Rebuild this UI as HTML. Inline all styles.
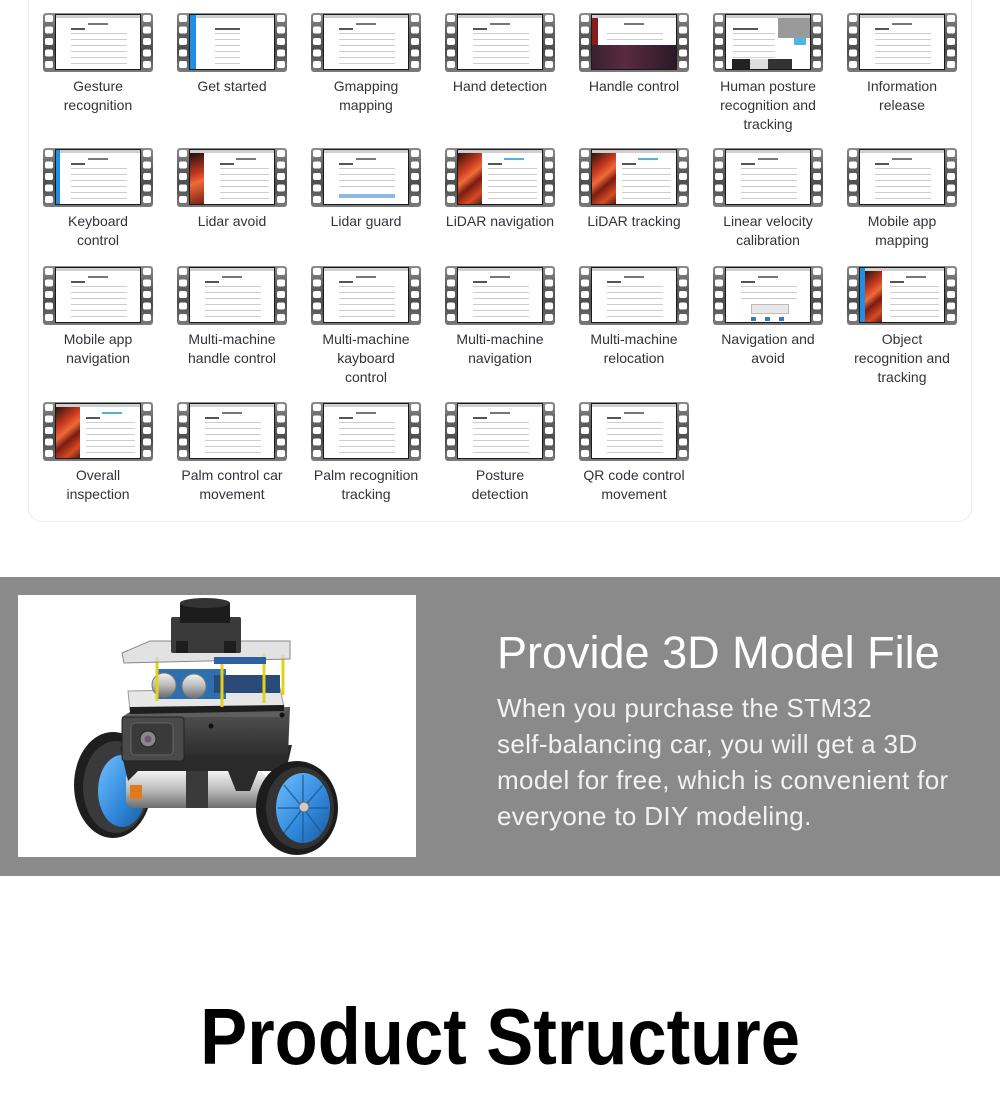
<!DOCTYPE html>
<html>
<head>
<meta charset="utf-8">
<style>
*{margin:0;padding:0;box-sizing:border-box}
html,body{width:1000px;height:1100px;background:#fff;overflow:hidden}
body{position:relative;font-family:"Liberation Sans",sans-serif}
.card{position:absolute;left:28px;top:-30px;width:944px;height:552px;border:1px solid #ebebeb;border-radius:14px;background:#fff}
.c{position:absolute;width:134px;text-align:center;font:14px/19px "Liberation Sans",sans-serif;color:#33323a}
.f{position:relative;margin:0 auto 5px;width:110px;height:59px;background:linear-gradient(#8c8c8c,#5e5e5e 35%,#4c4c4c 65%,#7c7c7c);border-radius:3px}
.f::before,.f::after{content:"";position:absolute;top:2px;width:8px;height:7px;background:#fff;border-radius:2px;box-shadow:0 11.5px #fff,0 23px #fff,0 34.5px #fff,0 46px #fff}
.f::before{left:2px}.f::after{right:2px}
.s{position:absolute;left:12px;top:1px;width:86px;height:56px;background:#fff;border:1px solid #1a1a1a;overflow:hidden}
.s::before{content:"";position:absolute;left:0;top:0;width:100%;height:3px;background:#cfcfcf}
.s .t{position:absolute;top:8px;left:38%;width:24%;height:2px;background:#777}
.s .p{position:absolute;top:15px;left:18%;width:66%;height:38px;background:repeating-linear-gradient(#fff 0 3px,#cdcdcd 3px 4px,#fff 4px 6px)}
.s .h{position:absolute;top:13px;left:18%;width:16%;height:2px;background:#555}
.r .p{left:36%;width:58%}.r .t{left:55%}.r .h{left:36%}
.rp{position:absolute;left:0;top:3px;width:24px;height:53px;background:linear-gradient(140deg,#2a1510 0,#c8391e 30%,#f06a3a 45%,#7a1c10 60%,#d84a24 80%,#3a1a12)}
.bb{position:absolute;left:0;top:0;width:6px;height:100%;background:#1f8fe6}
.band{position:absolute;left:0;top:577px;width:1000px;height:299px;background:#8a8a8a}
.wbox{position:absolute;left:18px;top:595px;width:398px;height:262px;background:#fff}
.h2{position:absolute;left:497px;top:628px;font-size:45px;line-height:50px;color:#fff;white-space:nowrap}
.para{position:absolute;left:497px;top:690px;font-size:26px;line-height:36px;color:#f2f2f2;letter-spacing:0.35px;white-space:nowrap}
.ps{position:absolute;left:0;top:997px;width:1000px;text-align:center;font-size:80px;line-height:80px;font-weight:bold;color:#000;white-space:nowrap}
.ps span{display:inline-block;transform:scaleX(0.882);transform-origin:center}
</style>
</head>
<body>
<div class="card"></div>

<!-- Row 1 -->
<div class="c" style="left:31px;top:13px"><div class="f"><div class="s"><i class="t"></i><i class="h"></i><i class="p"></i></div></div>Gesture<br>recognition</div>
<div class="c" style="left:165px;top:13px"><div class="f"><div class="s"><i class="bb"></i><i class="h" style="left:30%;width:30%"></i><i class="p" style="left:30%;width:30%"></i></div></div>Get started</div>
<div class="c" style="left:299px;top:13px"><div class="f"><div class="s"><i class="t"></i><i class="h"></i><i class="p"></i></div></div>Gmapping<br>mapping</div>
<div class="c" style="left:433px;top:13px"><div class="f"><div class="s"><i class="t"></i><i class="h"></i><i class="p"></i></div></div>Hand detection</div>
<div class="c" style="left:567px;top:13px"><div class="f"><div class="s"><i class="t"></i><i class="p" style="height:18px"></i><i style="position:absolute;left:0;top:30px;width:100%;height:26px;background:linear-gradient(90deg,#3a2230,#5a2a40 40%,#2a1a28)"></i><i style="position:absolute;left:0;top:3px;width:6px;height:27px;background:#8a1c1c"></i></div></div>Handle control</div>
<div class="c" style="left:701px;top:13px"><div class="f"><div class="s"><i class="h" style="left:8%;width:30%"></i><i class="p" style="left:8%;width:50%"></i><i style="position:absolute;right:0;top:3px;width:32px;height:20px;background:#9a9a9a"></i><i style="position:absolute;right:4px;top:22px;width:12px;height:8px;background:#5ab0e0"></i><i style="position:absolute;left:6px;bottom:0;width:60px;height:10px;background:linear-gradient(90deg,#222 0 30%,#ddd 30% 60%,#333 60%)"></i></div></div>Human posture<br>recognition and<br>tracking</div>
<div class="c" style="left:835px;top:13px"><div class="f"><div class="s"><i class="t"></i><i class="h"></i><i class="p"></i></div></div>Information<br>release</div>

<!-- Row 2 -->
<div class="c" style="left:31px;top:148px"><div class="f"><div class="s"><i class="bb" style="width:4px"></i><i class="t"></i><i class="h"></i><i class="p"></i></div></div>Keyboard<br>control</div>
<div class="c r" style="left:165px;top:148px"><div class="f"><div class="s"><i class="rp" style="width:14px;background:linear-gradient(160deg,#1a1010,#c8391e 40%,#f06a3a 55%,#6a1a10)"></i><i class="t"></i><i class="h"></i><i class="p"></i></div></div>Lidar avoid</div>
<div class="c" style="left:299px;top:148px"><div class="f"><div class="s"><i class="t"></i><i class="h"></i><i class="p" style="height:26px"></i><i style="position:absolute;left:18%;top:44px;width:66%;height:4px;background:#8fb8e0"></i></div></div>Lidar guard</div>
<div class="c r" style="left:433px;top:148px"><div class="f"><div class="s"><i class="rp"></i><i class="t" style="background:#5ab0d0"></i><i class="h"></i><i class="p"></i></div></div>LiDAR navigation</div>
<div class="c r" style="left:567px;top:148px"><div class="f"><div class="s"><i class="rp"></i><i class="t" style="background:#5ab0d0"></i><i class="h"></i><i class="p"></i></div></div>LiDAR tracking</div>
<div class="c" style="left:701px;top:148px"><div class="f"><div class="s"><i class="t"></i><i class="h"></i><i class="p"></i></div></div>Linear velocity<br>calibration</div>
<div class="c" style="left:835px;top:148px"><div class="f"><div class="s"><i class="t"></i><i class="h"></i><i class="p"></i></div></div>Mobile app<br>mapping</div>

<!-- Row 3 -->
<div class="c" style="left:31px;top:266px"><div class="f"><div class="s"><i class="t"></i><i class="h"></i><i class="p"></i></div></div>Mobile app<br>navigation</div>
<div class="c" style="left:165px;top:266px"><div class="f"><div class="s"><i class="t"></i><i class="h"></i><i class="p"></i></div></div>Multi-machine<br>handle control</div>
<div class="c" style="left:299px;top:266px"><div class="f"><div class="s"><i class="t"></i><i class="h"></i><i class="p"></i></div></div>Multi-machine<br>kayboard<br>control</div>
<div class="c" style="left:433px;top:266px"><div class="f"><div class="s"><i class="t"></i><i class="h"></i><i class="p"></i></div></div>Multi-machine<br>navigation</div>
<div class="c" style="left:567px;top:266px"><div class="f"><div class="s"><i class="t"></i><i class="h"></i><i class="p"></i></div></div>Multi-machine<br>relocation</div>
<div class="c" style="left:701px;top:266px"><div class="f"><div class="s"><i class="t"></i><i class="h"></i><i class="p" style="height:18px"></i><i style="position:absolute;left:30%;top:36px;width:45%;height:10px;background:#e8e8e8;border:1px solid #bbb"></i><i style="position:absolute;left:30%;top:49px;width:45%;height:4px;background:repeating-linear-gradient(90deg,#3a7ac0 0 5px,#fff 5px 14px)"></i></div></div>Navigation and<br>avoid</div>
<div class="c r" style="left:835px;top:266px"><div class="f"><div class="s"><i class="bb" style="width:5px"></i><i class="rp" style="left:5px;width:17px"></i><i class="t"></i><i class="h"></i><i class="p"></i></div></div>Object<br>recognition and<br>tracking</div>

<!-- Row 4 -->
<div class="c r" style="left:31px;top:402px"><div class="f"><div class="s"><i class="rp"></i><i class="t" style="background:#5ab0d0"></i><i class="h"></i><i class="p"></i></div></div>Overall<br>inspection</div>
<div class="c" style="left:165px;top:402px"><div class="f"><div class="s"><i class="t"></i><i class="h"></i><i class="p"></i></div></div>Palm control car<br>movement</div>
<div class="c" style="left:299px;top:402px"><div class="f"><div class="s"><i class="t"></i><i class="h"></i><i class="p"></i></div></div>Palm recognition<br>tracking</div>
<div class="c" style="left:433px;top:402px"><div class="f"><div class="s"><i class="t"></i><i class="h"></i><i class="p"></i></div></div>Posture<br>detection</div>
<div class="c" style="left:567px;top:402px"><div class="f"><div class="s"><i class="t"></i><i class="h"></i><i class="p"></i></div></div>QR code control<br>movement</div>

<!-- 3D model band -->
<div class="band"></div>
<div class="wbox">
<svg width="398" height="262" viewBox="0 0 398 262" xmlns="http://www.w3.org/2000/svg">
<defs>
<linearGradient id="sil" x1="0" y1="0" x2="0" y2="1"><stop offset="0" stop-color="#f2f2f2"/><stop offset="0.5" stop-color="#bcbcbc"/><stop offset="1" stop-color="#6e6e6e"/></linearGradient>
<linearGradient id="blu" x1="0" y1="0" x2="1" y2="1"><stop offset="0" stop-color="#6fc0ff"/><stop offset="0.6" stop-color="#2f86d8"/><stop offset="1" stop-color="#1a5a9a"/></linearGradient>
<linearGradient id="box" x1="0" y1="0" x2="0" y2="1"><stop offset="0" stop-color="#555"/><stop offset="1" stop-color="#2c2c2c"/></linearGradient>
</defs>
<!-- left wheel -->
<ellipse cx="95" cy="190" rx="39" ry="53" fill="#1e1e1e"/>
<ellipse cx="98" cy="192" rx="33" ry="46" fill="#3a3a3a"/>
<ellipse cx="104" cy="196" rx="24" ry="36" fill="url(#blu)"/>
<!-- motors -->
<rect x="108" y="176" width="140" height="37" rx="8" fill="url(#sil)"/>
<rect x="168" y="176" width="22" height="37" fill="#3a3a3a"/>
<rect x="112" y="190" width="12" height="14" fill="#e07a20"/>
<!-- chassis bracket -->
<polygon points="102,152 274,150 268,176 240,176 232,196 218,196 210,176 120,176 110,186" fill="#2a2a2a"/>
<!-- right wheel -->
<ellipse cx="279" cy="213" rx="41" ry="47" fill="#1c1c1c"/>
<ellipse cx="282" cy="213" rx="34" ry="41" fill="#333"/>
<ellipse cx="285" cy="213" rx="27" ry="35" fill="url(#blu)"/>
<g stroke="#1a5a9a" stroke-width="1.5" opacity="0.8">
<line x1="285" y1="213" x2="285" y2="180"/><line x1="285" y1="213" x2="305" y2="190"/><line x1="285" y1="213" x2="310" y2="213"/><line x1="285" y1="213" x2="304" y2="238"/><line x1="285" y1="213" x2="285" y2="247"/><line x1="285" y1="213" x2="266" y2="238"/><line x1="285" y1="213" x2="260" y2="213"/><line x1="285" y1="213" x2="266" y2="190"/>
</g>
<circle cx="286" cy="212" r="5" fill="#ccc" stroke="#666"/>
<!-- main body -->
<polygon points="104,122 120,112 272,112 270,160 104,162" fill="url(#box)"/>
<polygon points="104,122 120,112 272,112 262,122" fill="#5e5e5e"/>
<!-- camera module -->
<rect x="104" y="122" width="62" height="44" rx="3" fill="#4a4a4a" stroke="#222"/>
<rect x="113" y="128" width="42" height="32" rx="4" fill="#3a3a3a" stroke="#666"/>
<circle cx="130" cy="144" r="8" fill="#888" stroke="#222"/>
<circle cx="130" cy="144" r="3.5" fill="#6a5a80"/>
<circle cx="193" cy="131" r="2.5" fill="#111"/>
<circle cx="264" cy="120" r="2.5" fill="#111"/>
<!-- board layer -->
<polygon points="110,96 262,93 266,112 112,116" fill="#e6e6e6" stroke="#999"/>
<polygon points="112,112 266,110 266,116 112,119" fill="#1e1e1e"/>
<!-- ultrasonic -->
<rect x="138" y="74" width="70" height="30" fill="#2f6fb0"/>
<rect x="196" y="80" width="66" height="18" fill="#2a4a7a"/>
<ellipse cx="146" cy="90" rx="12" ry="12" fill="url(#sil)" stroke="#777"/>
<ellipse cx="176" cy="91" rx="12" ry="12" fill="url(#sil)" stroke="#777"/>
<!-- standoffs -->
<g stroke="#e4d21a" stroke-width="3">
<line x1="139" y1="62" x2="139" y2="106"/><line x1="204" y1="66" x2="204" y2="112"/><line x1="246" y1="58" x2="246" y2="108"/><line x1="265" y1="60" x2="265" y2="100"/>
</g>
<!-- top plate -->
<polygon points="104,58 132,46 272,46 272,64 106,68" fill="#d8d8d8" fill-opacity="0.75" stroke="#888"/>
<rect x="196" y="62" width="52" height="7" fill="#3060a0"/>
<!-- lidar -->
<rect x="153" y="22" width="70" height="36" rx="2" fill="#3a3a3a"/>
<rect x="158" y="46" width="12" height="12" fill="#1e1e1e"/>
<rect x="206" y="46" width="12" height="12" fill="#1e1e1e"/>
<rect x="162" y="8" width="50" height="20" fill="#1c1c1c"/>
<ellipse cx="187" cy="8" rx="25" ry="5" fill="#333"/>
</svg>
</div>
<div class="h2">Provide 3D Model File</div>
<div class="para">When you purchase the STM32<br>self-balancing car, you will get a 3D<br>model for free, which is convenient for<br>everyone to DIY modeling.</div>

<div class="ps"><span>Product Structure</span></div>
</body>
</html>
